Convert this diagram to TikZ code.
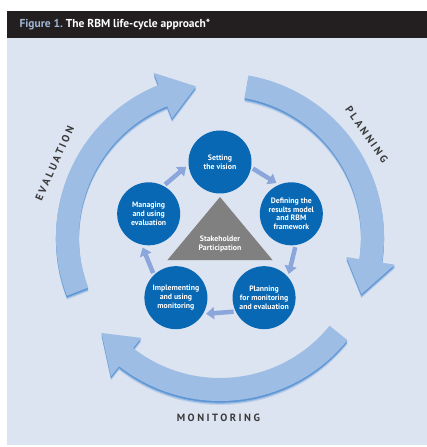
\documentclass[tikz,border=0pt]{standalone}
\usepackage{fontspec}
\setsansfont{PT Sans}
\newfontfamily\spacedfont[LetterSpace=24]{PT Sans}
\usetikzlibrary{arrows.meta}
\definecolor{panel}{RGB}{221,228,241}
\definecolor{headbar}{RGB}{35,31,32}
\definecolor{figblue}{RGB}{160,182,214}
\definecolor{ringblue}{RGB}{157,189,228}
\definecolor{shadowblue}{RGB}{30,112,200}
\definecolor{stageblue}{RGB}{8,104,180}
\definecolor{flowblue}{RGB}{138,166,218}
\definecolor{hubgray}{RGB}{128,128,128}
\definecolor{labelgray}{RGB}{58,58,58}
\tikzset{
  stage/.style={circle, fill=stageblue, minimum size=63pt, inner sep=0pt,
    text=white, align=center, font=\sffamily\bfseries\fontsize{7.8}{8.8}\selectfont},
  flow/.style={draw=flowblue, line width=4.5pt, -{Triangle[width=12pt,length=8pt]},
    shorten <=2pt, shorten >=3pt},
  arclabel/.style={font=\spacedfont\bfseries\fontsize{10.5}{12}\selectfont, text=labelgray},
}
\begin{document}
\begin{tikzpicture}[x=1pt,y=1pt]
   \useasboundingbox (-220,-210) rectangle (207,237);
   \fill[white] (-220,-210) rectangle (207,237);
   \fill[panel] (-213,-208) rectangle (207,199);
   \fill[headbar] (-213,199) rectangle (207,226);
   \node[anchor=west, text=white, font=\sffamily\bfseries\fontsize{11.5}{13}\selectfont] (title)
      at (-204,212.5) {\textcolor{figblue}{Figure 1.}\ The RBM life-cycle approach*};
   % big ring arrows
   \foreach \s in {201,80,-39} {
      \pgfmathsetmacro\e{\s-89}
      \pgfmathsetmacro\t{\s-102}
      \foreach \dy/\op in {4/0.15,2.8/0.3,1.6/0.45}
         \fill[shadowblue, opacity=\op, yshift=-\dy] (\s:164) arc[start angle=\s, end angle=\e, radius=164pt]
            -- (\e:177) -- (\t:152.5) -- (\e:128) -- (\e:141)
            arc[start angle=\e, end angle=\s, radius=141pt] -- cycle;
      \fill[ringblue] (\s:164) arc[start angle=\s, end angle=\e, radius=164pt]
         -- (\e:177) -- (\t:152.5) -- (\e:128) -- (\e:141)
         arc[start angle=\e, end angle=\s, radius=141pt] -- cycle;
   }
   \node[arclabel, rotate=66] (evaluation) at (156:181) {EVALUATION};
   \node[arclabel, rotate=-55] (planning) at (35:179) {PLANNING};
   \node[arclabel] (monitoring) at (-90.5:181) {MONITORING};
   % stakeholder triangle
   \fill[hubgray] (0,40) -- (52.5,-23) -- (-52.5,-23) -- cycle;
   \node[text=white, align=center, font=\sffamily\bfseries\fontsize{7.8}{8.8}\selectfont] (hub)
      at (0,-7) {Stakeholder\\Participation};
   % the five stages
   \node[stage] (vision) at (90:75) {Setting\\the vision};
   \node[stage] (define) at (18:75) {Defining the\\results model\\and RBM\\framework};
   \node[stage] (plan) at (-54:75) {Planning\\for monitoring\\and evaluation};
   \node[stage] (implement) at (-126:75) {Implementing\\and using\\monitoring};
   \node[stage] (manage) at (162:75) {Managing\\and using\\evaluation};
   \draw[flow] (manage.62) -- (vision.185);
   \draw[flow] (vision.-10) -- (define.113);
   \draw[flow] (define.-82) -- (plan.41);
   \draw[flow] (plan.-154) -- (implement.-31);
   \draw[flow] (implement.134) -- (manage.-103);
\end{tikzpicture}
\end{document}
